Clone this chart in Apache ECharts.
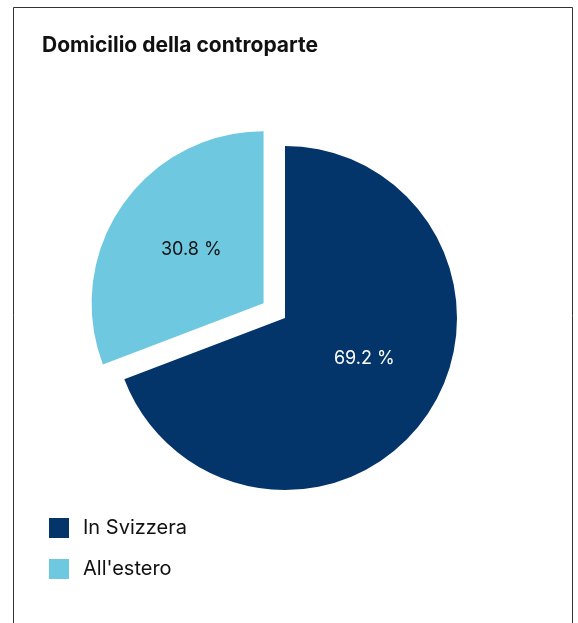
<!DOCTYPE html>
<html><head><meta charset="utf-8">
<script src="https://cdn.jsdelivr.net/npm/echarts@6/dist/echarts.min.js"></script>
<style>html,body{margin:0;padding:0;background:#fff}#c{width:578px;height:623px}</style>
</head><body><div id="c"></div>
<script>
const title = "Domicilio della controparte";
const categories = ["In Svizzera", "All'estero"];
const values = [69.2, 30.8];
const colors = ["#03356b", "#6dc8e0"];
const labelColors = ["#ffffff", "#111111"];
const labelShift = [[6, -10], [1, -3]];

const chart = echarts.init(document.getElementById('c'), null, {renderer: 'canvas'});
chart.setOption({
  animation: false,
  backgroundColor: '#ffffff',
  title: {
    text: title, left: 37, top: 30,
    textStyle: {fontFamily: 'Inter', fontWeight: 700, fontSize: 21, color: '#111'}
  },
  graphic: [{
    type: 'rect', silent: true,
    shape: {x: 13.5, y: 7.5, width: 559, height: 700},
    style: {fill: 'none', stroke: '#333', lineWidth: 1}
  }],
  legend: {
    orient: 'vertical', left: 44, top: 513,
    itemWidth: 20, itemHeight: 20, itemGap: 21,
    icon: 'rect',
    textStyle: {fontFamily: 'Inter', fontSize: 20, color: '#111', padding: [0, 0, 0, 9]},
    data: categories
  },
  series: [{
    type: 'pie',
    center: [285, 318], radius: [0, 172],
    startAngle: 90, clockwise: true,
    selectedMode: 'multiple', selectedOffset: 26,
    label: {
      position: 'inside', fontFamily: 'Inter', fontSize: 18,
      formatter: p => p.value.toFixed(1) + ' %'
    },
    labelLayout: p => ({dx: labelShift[p.dataIndex][0], dy: labelShift[p.dataIndex][1]}),
    labelLine: {show: false},
    emphasis: {disabled: true},
    data: categories.map((n, i) => ({
      name: n, value: values[i], selected: i === 1,
      itemStyle: {color: colors[i]},
      label: {color: labelColors[i]}
    }))
  }]
});
</script></body></html>
